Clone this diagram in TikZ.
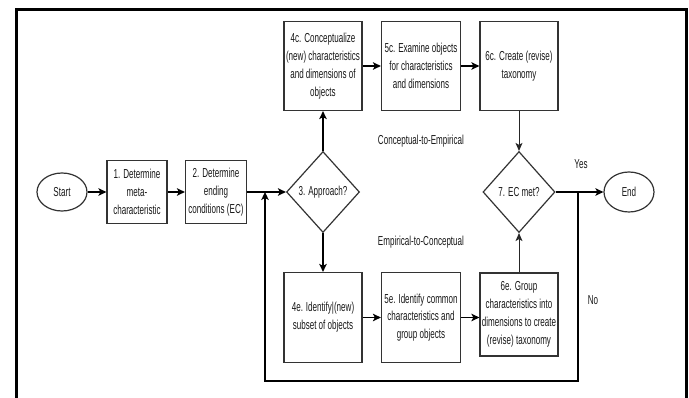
\documentclass[tikz,border=0pt]{standalone}
\usepackage{fontspec}
\setmainfont{Liberation Sans}[FakeStretch=0.62]
\usetikzlibrary{arrows.meta,shapes.geometric}
\begin{document}
\begin{tikzpicture}[x=1pt,y=-1pt,
  every node/.style={font=\fontsize{13}{17.8}\selectfont, text=black!90, align=center},
  stepbox/.style n args={2}{draw=black!80, line width=1.2pt, inner sep=0pt, minimum width=#1, minimum height=#2},
  decision/.style n args={2}{diamond, aspect=1, draw=black!80, line width=1.2pt, inner sep=0pt, minimum width=#1, minimum height=#2},
  term/.style n args={2}{ellipse, draw=black!80, line width=1.2pt, inner sep=0pt, minimum width=#1, minimum height=#2},
  arr/.style={-{Stealth[length=8pt,width=7.5pt,inset=2pt]}, line width=1.4pt, draw=black},
  thinarr/.style={-{Stealth[length=8pt,width=7pt,inset=2pt]}, line width=0.9pt, draw=black!85},
  frame/.style={line width=3pt, draw=black}
]
\useasboundingbox (0,0) rectangle (689,398);
\fill[white] (0,0) rectangle (689,398);
\draw[frame] (16,398) -- (16,9.5) -- (686.5,9.5) -- (686.5,398);

\node[term={50}{38}] (start) at (62,192) {Start};
\node[stepbox={60}{63}] (b1) at (137,192) {1. Determine\\meta-\\characteristic};
\node[stepbox={61}{63}] (b2) at (216,192) {2. Determine\\ending\\conditions (EC)};
\node[decision={73}{81}] (d3) at (323,192) {3. Approach?};

\node[stepbox={78}{89}] (c4) at (323,66) {4c. Conceptualize\\(new) characteristics\\and dimensions of\\objects};
\node[stepbox={79}{89}] (c5) at (421,66) {5c. Examine objects\\for characteristics\\and dimensions};
\node[stepbox={78}{89}] (c6) at (519,66) {6c. Create (revise)\\taxonomy};

\node[stepbox={78}{90}] (e4) at (323,317.5) {4e. Identify|(new)\\subset of objects};
\node[stepbox={79}{90}] (e5) at (421,317.5) {5e. Identify common\\characteristics and\\group objects};
\node[stepbox={78}{83}] (e6) at (519,314.5) {6e. Group\\characteristics into\\dimensions to create\\(revise) taxonomy};

\node[decision={72}{81}] (d7) at (519,192) {7. EC met?};
\node[term={50}{40}] (end) at (629,192) {End};

\node (lce) at (421,141) {Conceptual-to-Empirical};
\node (lec) at (421,242) {Empirical-to-Conceptual};
\node (lyes) at (581,164) {Yes};
\node (lno) at (593,300) {No};

\draw[arr] (start) -- (b1);
\draw[arr] (b1) -- (b2);
\draw[arr] (b2) -- (d3);
\draw[arr] (d3) -- (c4);
\draw[arr] (d3) -- (e4);
\draw[arr] (c4) -- (c5);
\draw[arr] (c5) -- (c6);
\draw[thinarr] (c6) -- (d7);
\draw[arr] (e4) -- (e5);
\draw[arr] (e5.east) -- (e5.east -| e6.west);
\draw[thinarr] (e6) -- (d7);
\draw[arr] (d7) -- (end);

\coordinate (jt) at (578,192);
\coordinate (jb) at (578,381);
\coordinate (jl) at (265,381);
\coordinate (jm) at (265,192);
\draw[arr] (jt) -- (jb) -- (jl) -- (jm);
\end{tikzpicture}
\end{document}
